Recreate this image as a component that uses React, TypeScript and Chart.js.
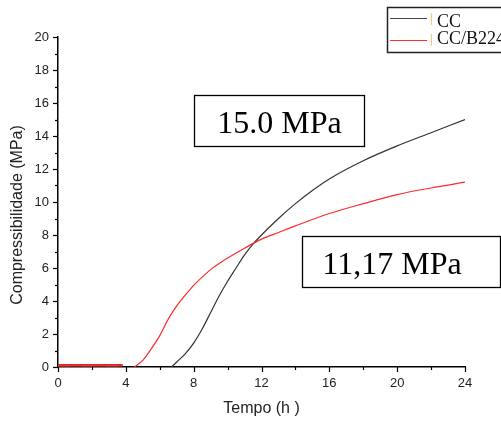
import React, { useEffect, useRef } from 'react';
import { Chart, registerables } from 'chart.js';
Chart.register(...registerables);

const seriesLabels = ['CC', 'CC/B224'];
const ccTime = [0, 3.8, 4.2, 6.7, 7, 7.5, 8, 8.5, 9, 9.5, 10, 10.5, 11, 11.5, 12, 13, 14, 15, 16, 18, 20, 22, 24];
const ccValues = [0.1, 0.1, null, 0, 0.3, 0.8, 1.45, 2.3, 3.3, 4.3, 5.2, 6.0, 6.8, 7.45, 8.0, 9.0, 9.9, 10.7, 11.4, 12.5, 13.4, 14.2, 15.0];
const b224Time = [0, 3.8, 4.2, 4.5, 5, 5.5, 6, 6.5, 7, 7.5, 8, 8.5, 9, 10, 11, 12, 13, 14, 16, 18, 20, 22, 24];
const b224Values = [0.1, 0.1, null, 0, 0.4, 1.1, 1.9, 2.9, 3.7, 4.35, 4.95, 5.45, 5.9, 6.6, 7.2, 7.75, 8.15, 8.55, 9.3, 9.9, 10.45, 10.85, 11.2];
const xTickStep = 4;
const yTickStep = 2;
const xTitle = 'Tempo (h )';
const yTitle = 'Compressibilidade (MPa)';
const annotationTexts = ['15.0 MPa', '11,17 MPa'];

const SANS = '"Liberation Sans", Arial, sans-serif';
const SERIF = '"Liberation Serif", "Times New Roman", serif';

const overlay = {
  id: 'overlay',
  afterDraw(chart: any) {
    const ctx = chart.ctx;
    const xs = chart.scales.x;
    const ys = chart.scales.y;
    const area = chart.chartArea;
    ctx.save();
    ctx.strokeStyle = '#000';
    ctx.lineWidth = 1.2;
    for (let v = 0; v <= 24; v += xTickStep / 2) {
      const px = Math.round(xs.getPixelForValue(v)) + 0.5;
      const len = v % xTickStep === 0 ? 5 : 3;
      ctx.beginPath();
      ctx.moveTo(px, area.bottom);
      ctx.lineTo(px, area.bottom + len);
      ctx.stroke();
    }
    for (let v = 0; v <= 20; v += yTickStep / 2) {
      const py = Math.round(ys.getPixelForValue(v)) + 0.5;
      const len = v % yTickStep === 0 ? 5 : 3;
      ctx.beginPath();
      ctx.moveTo(area.left, py);
      ctx.lineTo(area.left - len, py);
      ctx.stroke();
    }
    ctx.fillStyle = '#222';
    ctx.font = `16px ${SANS}`;
    ctx.textAlign = 'center';
    ctx.textBaseline = 'middle';
    ctx.fillText(xTitle, (area.left + area.right) / 2, 409);
    ctx.save();
    ctx.translate(18, 215);
    ctx.rotate(-Math.PI / 2);
    ctx.fillText(yTitle, 0, 0);
    ctx.restore();

    ctx.strokeStyle = '#000';
    ctx.lineWidth = 1.3;
    ctx.fillStyle = '#fff';
    ctx.fillRect(194, 95, 170, 51);
    ctx.strokeRect(194.5, 95.5, 170, 51);
    ctx.fillRect(302, 236, 198, 51);
    ctx.strokeRect(302.5, 236.5, 198, 51);
    ctx.fillStyle = '#000';
    ctx.font = `32px ${SERIF}`;
    ctx.textAlign = 'center';
    ctx.textBaseline = 'middle';
    ctx.fillText(annotationTexts[0], 279.5, 125);
    ctx.fillText(annotationTexts[1], 392, 266);

    ctx.fillStyle = '#fff';
    ctx.fillRect(387, 7, 130, 45);
    ctx.lineWidth = 1.5;
    ctx.strokeStyle = '#222';
    ctx.strokeRect(387.5, 7.5, 130, 45);
    ctx.lineWidth = 1.2;
    ctx.strokeStyle = '#444';
    ctx.beginPath();
    ctx.moveTo(390, 18.5);
    ctx.lineTo(427, 18.5);
    ctx.stroke();
    ctx.strokeStyle = '#ff3030';
    ctx.beginPath();
    ctx.moveTo(390, 40.5);
    ctx.lineTo(427, 40.5);
    ctx.stroke();
    ctx.strokeStyle = '#f6c98a';
    ctx.beginPath();
    ctx.moveTo(431.5, 13);
    ctx.lineTo(431.5, 25);
    ctx.moveTo(431.5, 34);
    ctx.lineTo(431.5, 46);
    ctx.stroke();
    ctx.fillStyle = '#111';
    ctx.font = `18px ${SERIF}`;
    ctx.textAlign = 'left';
    ctx.textBaseline = 'middle';
    ctx.fillText(seriesLabels[0], 437, 22);
    ctx.fillText(seriesLabels[1], 437, 39);
    ctx.restore();
  },
};

const toPoints = (ts: number[], vs: (number | null)[]) => ts.map((t, i) => ({ x: t, y: vs[i] }));

export default function App() {
  const ref = useRef<HTMLCanvasElement>(null);
  useEffect(() => {
    if (!ref.current) return;
    const chart = new Chart(ref.current, {
      type: 'line',
      data: {
        datasets: [
          {
            label: seriesLabels[1],
            data: toPoints(b224Time, b224Values),
            borderColor: '#ff2a2a',
            borderWidth: 1.2,
            pointRadius: 0,
            cubicInterpolationMode: 'monotone',
            spanGaps: false,
          },
          {
            label: seriesLabels[0],
            data: toPoints(ccTime, ccValues),
            borderColor: '#333',
            borderWidth: 1.2,
            pointRadius: 0,
            cubicInterpolationMode: 'monotone',
            spanGaps: false,
          },
          {
            label: seriesLabels[1] + ' base',
            data: toPoints(b224Time.slice(0, 2), b224Values.slice(0, 2)),
            borderColor: '#ff2a2a',
            borderWidth: 2.5,
            pointRadius: 0,
          },
          {
            label: seriesLabels[0] + ' base',
            data: toPoints(ccTime.slice(0, 2), ccValues.slice(0, 2)),
            borderColor: '#333',
            borderWidth: 2.5,
            borderDash: [12, 12],
            pointRadius: 0,
          },
        ],
      },
      options: {
        animation: false,
        responsive: true,
        maintainAspectRatio: false,
        layout: { padding: { top: 37, right: 36, left: 0, bottom: 0 } },
        plugins: { legend: { display: false }, tooltip: { enabled: false } },
        scales: {
          x: {
            type: 'linear',
            min: 0,
            max: 24,
            ticks: {
              stepSize: xTickStep / 2,
              autoSkip: false,
              maxRotation: 0,
              padding: 4,
              color: '#222',
              font: { family: SANS, size: 13 },
              callback: (v: any) => (v % xTickStep === 0 ? String(v) : ''),
            },
            grid: { display: true, drawOnChartArea: false, tickLength: 5, tickColor: 'rgba(0,0,0,0)' },
            border: { color: '#000', width: 1.5 },
            afterFit: (s: any) => { s.height = 54; },
          },
          y: {
            min: 0,
            max: 20,
            ticks: {
              stepSize: yTickStep / 2,
              autoSkip: false,
              padding: 4,
              color: '#222',
              font: { family: SANS, size: 13 },
              callback: (v: any) => (v % yTickStep === 0 ? String(v) : ''),
            },
            grid: { display: true, drawOnChartArea: false, tickLength: 5, tickColor: 'rgba(0,0,0,0)' },
            border: { color: '#000', width: 1.5 },
            afterFit: (s: any) => { s.width = 58; },
          },
        },
      },
      plugins: [overlay],
    });
    return () => chart.destroy();
  }, []);
  return (
    <div style={{ position: 'absolute', left: 0, top: 0, width: 501, height: 421, background: '#fff' }}>
      <canvas ref={ref} />
    </div>
  );
}
